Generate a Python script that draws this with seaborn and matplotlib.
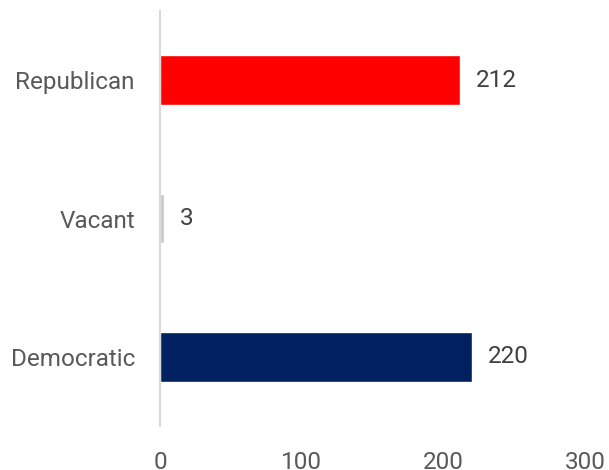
import matplotlib
matplotlib.use("Agg")
import matplotlib.pyplot as plt
import seaborn as sns
import pandas as pd

# House seats by party
parties = ["Republican", "Vacant", "Democratic"]
seats = [212, 3, 220]
colors = ["#ff0000", "#c8c8c8", "#002060"]
x_ticks = [0, 100, 200, 300]

sns.set_theme(style="white")
plt.rcParams["font.family"] = ["Roboto", "DejaVu Sans"]

df = pd.DataFrame({"party": parties, "seats": seats})

fig = plt.figure(figsize=(6.09, 4.70), dpi=100)
ax = fig.add_axes([0.2627, 0.0936, 0.6979, 0.883])

sns.barplot(data=df, x="seats", y="party", hue="party", palette=colors,
            order=parties, hue_order=parties, width=0.36, legend=False,
            saturation=1, ax=ax)

ax.set_xlim(0, 300)
ax.set_ylim(2.5, -0.5)
ax.set_xticks(x_ticks)
ax.set_xticklabels([str(t) for t in x_ticks])
ax.set_xlabel("")
ax.set_ylabel("")

for s in ["top", "right", "bottom"]:
    ax.spines[s].set_visible(False)
ax.spines["left"].set_color("#d9d9d9")
ax.spines["left"].set_linewidth(1.5)

ax.tick_params(axis="x", length=0, pad=18, labelsize=17.5, labelcolor="#595959")
ax.tick_params(axis="y", length=0, pad=18, labelsize=17.5, labelcolor="#595959")

for cont in ax.containers:
    ax.bar_label(cont, labels=[f"{int(v)}" for v in cont.datavalues],
                 padding=11.5, fontsize=17.5, color="#404040")

fig.savefig("out.png", dpi=100)
